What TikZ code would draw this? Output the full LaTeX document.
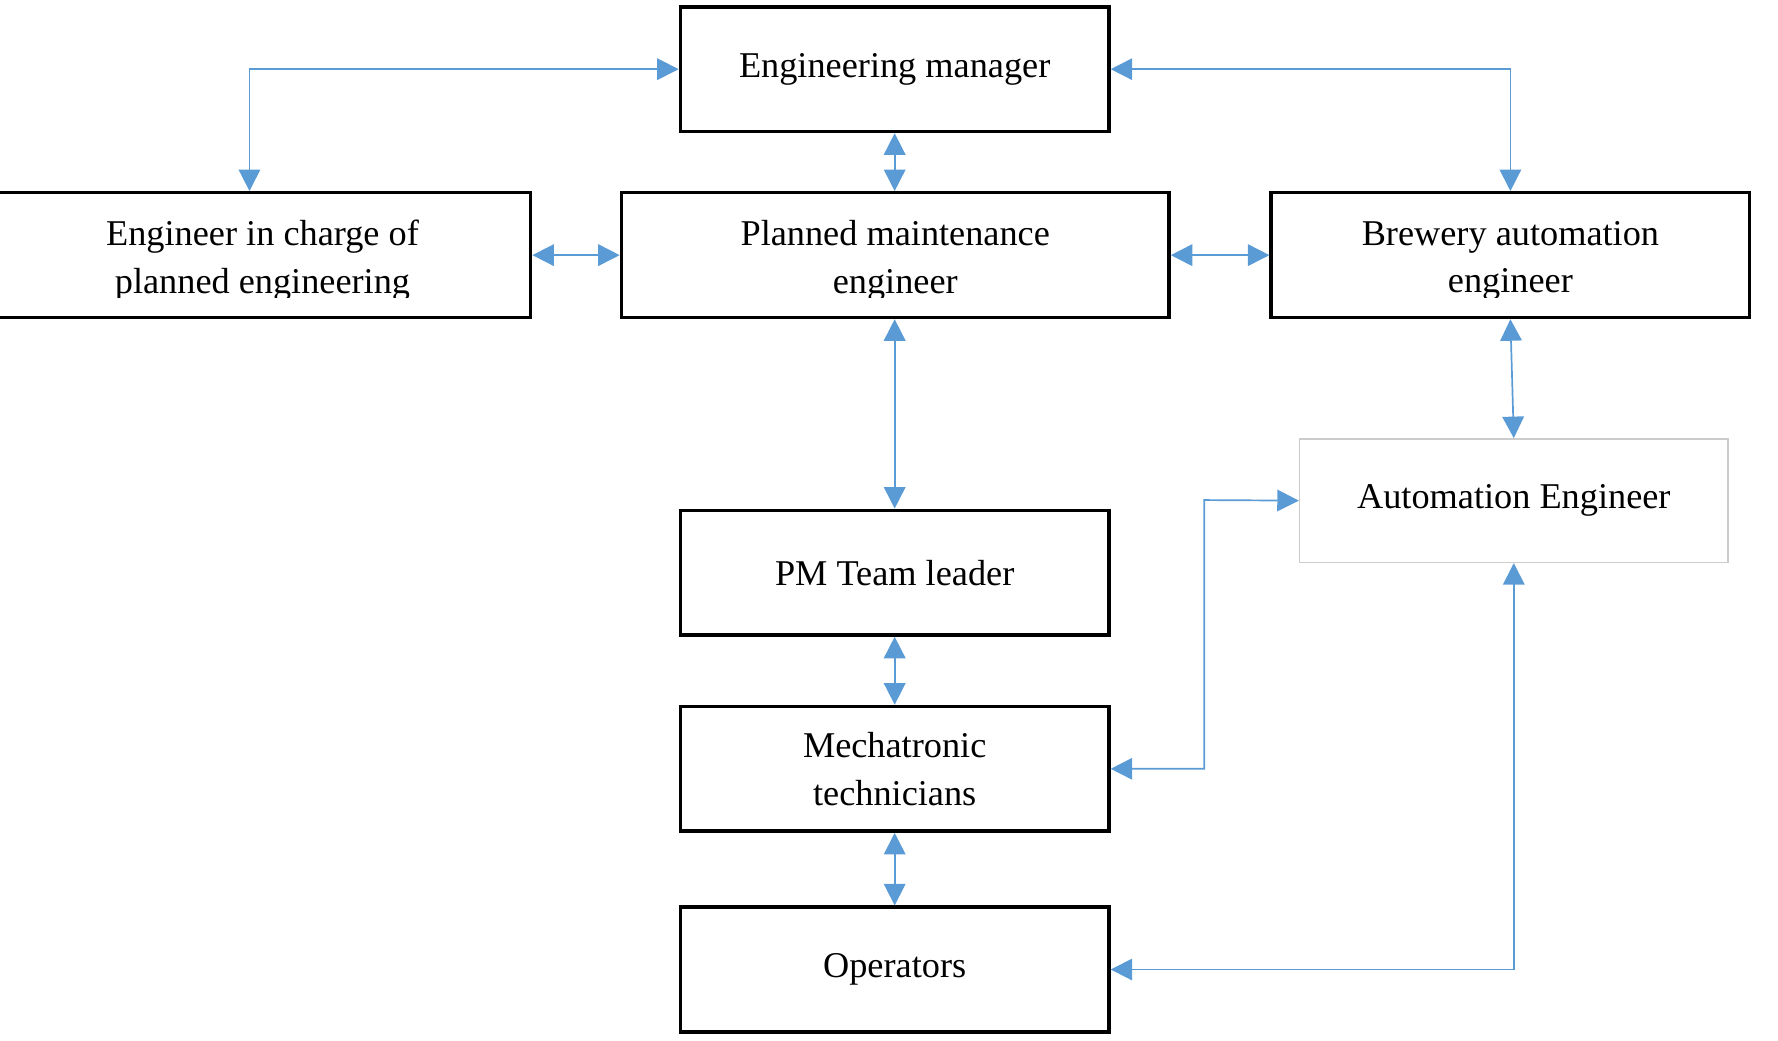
\documentclass[tikz,border=0pt]{standalone}
\usepackage{fontspec}
\setmainfont{Liberation Serif}
\usetikzlibrary{arrows.meta}
\definecolor{lnk}{RGB}{91,155,213}
\begin{document}
\begin{tikzpicture}[x=1pt,y=-1pt,
  box/.style={draw=black,line width=3pt,minimum width=#1,minimum height=110pt,inner sep=0pt},
  lbl/.style={font=\fontsize{32}{42}\selectfont,align=center,inner sep=0pt},
  con/.style={draw=lnk,line width=1.5pt,{Triangle[length=19pt,width=19pt]}-{Triangle[length=19pt,width=19pt]}}]
\useasboundingbox (0,0) rectangle (1568,918);
\node[box=378pt] (em) at (789,61) {};
\node[box=473pt] (ec) at (231.5,225) {};
\node[box=483pt] (pm) at (789.5,225) {};
\node[box=422pt] (ba) at (1332,225) {};
\node[draw=black!20,line width=1.2pt,minimum width=378pt,minimum height=109pt] (ae) at (1335,441.5) {};
\node[box=378pt] (pt) at (789,505) {};
\node[box=378pt] (mt) at (789,678) {};
\node[box=378pt] (op) at (789,855) {};
\node[lbl] (tem) at (em.center) {Engineering manager};
\node[lbl] (tae) at (ae.center) {Automation Engineer};
\node[lbl] (tpt) at (pt.center) {PM Team leader};
\node[lbl] (tmt) at (mt.center) {Mechatronic\\technicians};
\node[lbl] (top) at (op.center) {Operators};
\begin{scope}\clip (-10,170) rectangle (1560,262);
\node[lbl] (tec) at (231.5,230) {Engineer in charge of\\planned engineering};
\node[lbl] (tpm) at (789.5,230) {Planned maintenance\\engineer};
\node[lbl] (tba) at (1332,230) {Brewery automation\\engineer};
\end{scope}
\coordinate (c1) at (220,61);
\coordinate (c2) at (1332,61);
\coordinate (c3) at (1062,678);
\coordinate (c4) at (1062,441);
\coordinate (c5) at (1335,855);
\path[con] (em.west) -- (c1) -- (ec.north -| c1);
\path[con] (em.east) -- (c2) -- (ba.north);
\path[con] (em.south) -- (pm.north -| em.south);
\path[con] (ec.east) -- (pm.west);
\path[con] (pm.east) -- (ba.west);
\path[con] (pm.south -| em.south) -- (pt.north);
\path[con] (ba.south) -- (ae.north);
\path[con] (pt.south) -- (mt.north);
\path[con] (mt.south) -- (op.north);
\path[con] (mt.east) -- (c3) -- (c4) -- (ae.west);
\path[con] (op.east) -- (c5) -- (ae.south);
\end{tikzpicture}
\end{document}
